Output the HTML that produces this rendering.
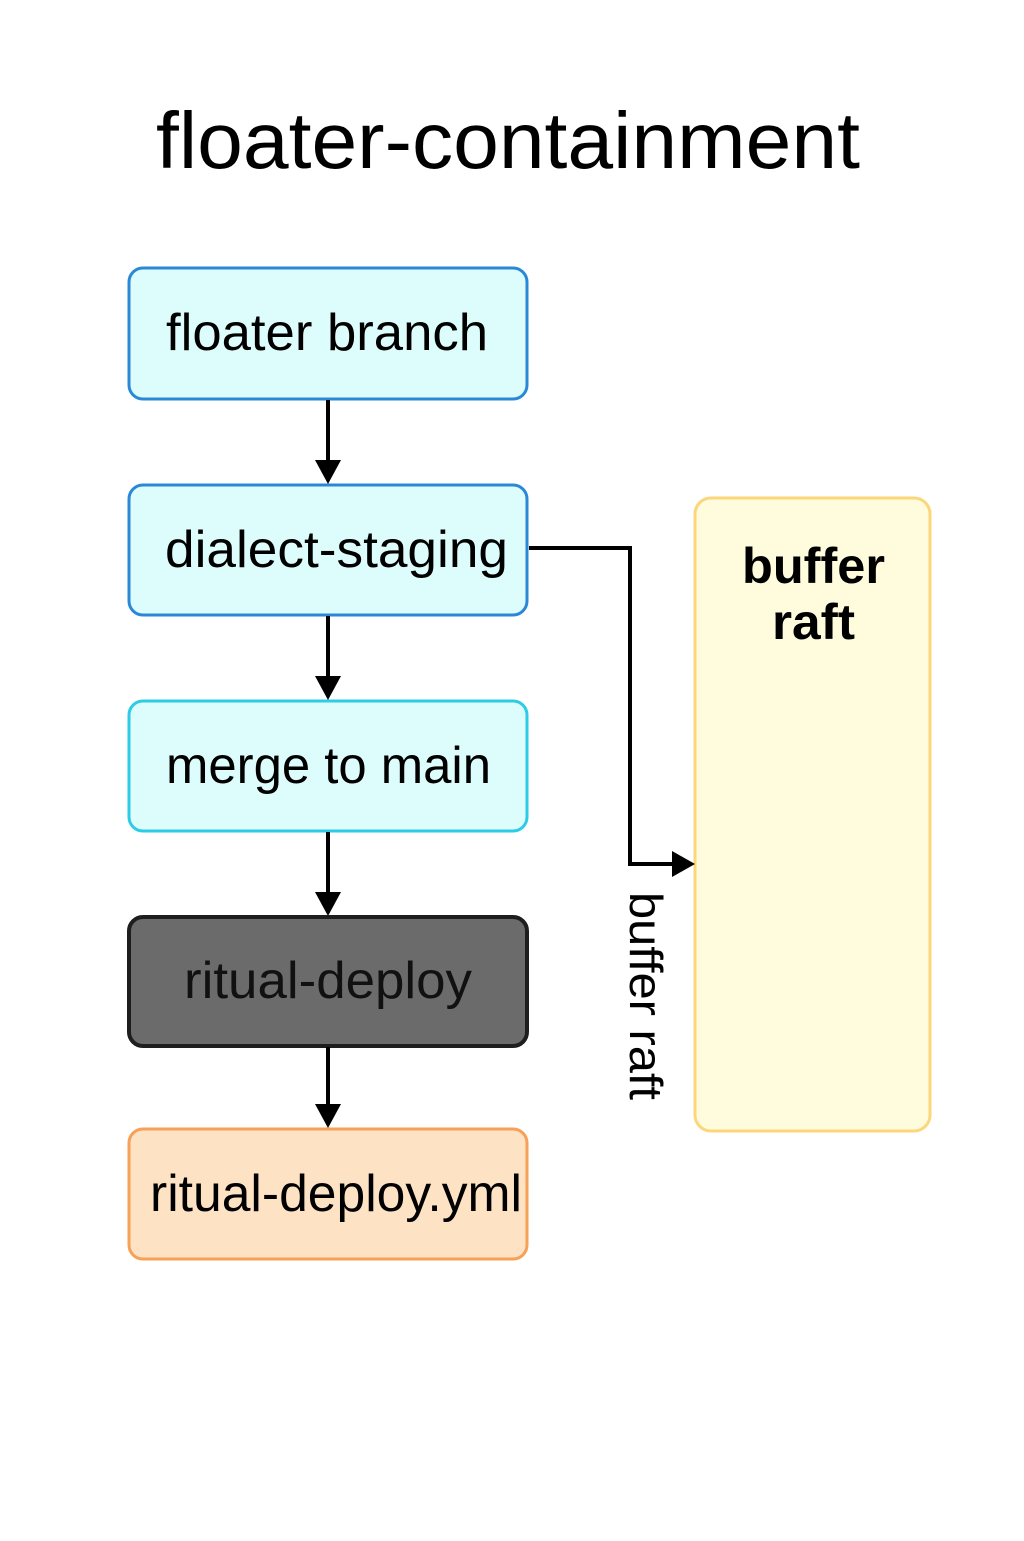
<!DOCTYPE html>
<html><head><meta charset="utf-8"><style>
html,body{margin:0;padding:0;background:#fff;}
body{width:1024px;height:1536px;overflow:hidden;}
</style></head><body>
<svg width="1024" height="1536" xmlns="http://www.w3.org/2000/svg" font-family="Liberation Sans, DejaVu Sans, sans-serif">
<text x="156" y="168" font-size="80" textLength="704" lengthAdjust="spacingAndGlyphs" fill="#000">floater-containment</text>
<rect x="129" y="268" width="398" height="131" rx="14" fill="#ddfdfd" stroke="#2a88d6" stroke-width="3"/>
<text x="166" y="350" font-size="52" textLength="322" lengthAdjust="spacingAndGlyphs">floater branch</text>
<rect x="129" y="485" width="398" height="130" rx="14" fill="#ddfdfd" stroke="#2a88d6" stroke-width="3"/>
<text x="165" y="567" font-size="52" textLength="343" lengthAdjust="spacingAndGlyphs">dialect-staging</text>
<rect x="129" y="701" width="398" height="130" rx="14" fill="#ddfdfd" stroke="#2ecbe6" stroke-width="3"/>
<text x="166" y="783" font-size="52" textLength="325" lengthAdjust="spacingAndGlyphs">merge to main</text>
<rect x="129" y="917" width="398" height="129" rx="14" fill="#6b6b6b" stroke="#1e1e1e" stroke-width="4"/>
<text x="184" y="998" font-size="52" textLength="288" lengthAdjust="spacingAndGlyphs" fill="#111">ritual-deploy</text>
<rect x="129" y="1129" width="398" height="130" rx="14" fill="#fde2c4" stroke="#f6a058" stroke-width="3"/>
<text x="150" y="1211" font-size="52" textLength="372" lengthAdjust="spacingAndGlyphs">ritual-deploy.yml</text>
<rect x="695" y="498" width="235" height="633" rx="16" fill="#fefcdc" stroke="#fcd67a" stroke-width="3"/>
<text x="742" y="583" font-size="50" font-weight="bold" textLength="143" lengthAdjust="spacingAndGlyphs">buffer</text>
<text x="772" y="639" font-size="50" font-weight="bold" textLength="83" lengthAdjust="spacingAndGlyphs">raft</text>
<g stroke="#000" stroke-width="4" fill="none">
<line x1="328" y1="400" x2="328" y2="464"/>
<line x1="328" y1="616" x2="328" y2="680"/>
<line x1="328" y1="832" x2="328" y2="896"/>
<line x1="328" y1="1047" x2="328" y2="1108"/>
<polyline points="529,548 630,548 630,864 675,864"/>
</g>
<g fill="#000">
<polygon points="315,460 341,460 328,484"/>
<polygon points="315,676 341,676 328,700"/>
<polygon points="315,892 341,892 328,916"/>
<polygon points="315,1104 341,1104 328,1128"/>
<polygon points="672,851 672,877 695,864"/>
</g>
<text transform="translate(630,892) rotate(90)" font-size="46" textLength="208" lengthAdjust="spacingAndGlyphs" fill="#000">buffer raft</text>
</svg>
</body></html>
